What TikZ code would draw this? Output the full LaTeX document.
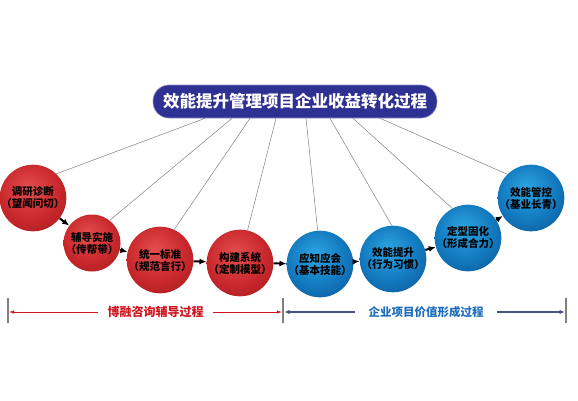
\documentclass[tikz,border=0pt]{standalone}
\usepackage{fontspec}
\setmainfont{Noto Sans CJK SC}
\usetikzlibrary{arrows.meta, calc}

% Colours
\definecolor{titleblue}{RGB}{46,49,146}
\definecolor{redhi}{RGB}{228,78,78}
\definecolor{redmid}{RGB}{200,40,44}
\definecolor{reddark}{RGB}{140,18,22}
\definecolor{bluehi}{RGB}{45,165,225}
\definecolor{bluemid}{RGB}{18,120,190}
\definecolor{bluedark}{RGB}{8,68,125}
\definecolor{consultred}{RGB}{205,22,32}
\definecolor{valueblue}{RGB}{30,110,190}
\definecolor{valuenavy}{RGB}{70,82,130}

% Sphere shadings
\pgfdeclareradialshading{redsphere}{\pgfpoint{-4bp}{8bp}}{%
  color(0bp)=(redhi); color(22bp)=(redmid); color(46bp)=(reddark); color(60bp)=(reddark)}
\pgfdeclareradialshading{bluesphere}{\pgfpoint{-4bp}{8bp}}{%
  color(0bp)=(bluehi); color(22bp)=(bluemid); color(46bp)=(bluedark); color(60bp)=(bluedark)}

\begin{document}
\begin{tikzpicture}[
    x=1pt, y=-1pt,
    >=Latex, % Default arrow tip
    ball/.style={circle, minimum size=57pt, inner sep=0pt, align=center,
                 font=\bfseries\fontsize{10.5}{12}\selectfont},
    redball/.style={ball, shading=redsphere},
    blueball/.style={ball, shading=bluesphere},
    thread/.style={gray, line width=0.5pt},
    flow/.style={-{Latex[length=7pt,width=6pt]}, line width=2pt, black},
    bar/.style={gray, line width=1.4pt},
    redarrow/.style={consultred, line width=0.8pt, -{Latex[length=5pt,width=3.5pt]}, shorten >=1pt},
    bluearrow/.style={valuenavy, line width=1.8pt, -{Latex[length=5pt,width=4.5pt]}, shorten >=1.5pt}
]
\useasboundingbox (0,0) rectangle (578,400);

% Title
\node[fill=titleblue, draw=titleblue!55!white, line width=0.6pt, rounded corners=16pt,
      minimum width=284pt, minimum height=33pt, text=white,
      font=\bfseries\fontsize{16.5}{18}\selectfont] (title) at (295,101.5)
      {效能提升管理项目企业收益转化过程};

% Spheres
\node[redball]  (c1) at (33,198)  {调研诊断\\（望闻问切）};
\node[redball]  (c2) at (92,243)  {辅导实施\\（传帮带）};
\node[redball]  (c3) at (160,260) {统一标准\\（规范言行）};
\node[redball]  (c4) at (240,263) {构建系统\\（定制模型）};
\node[blueball] (c5) at (320,264) {应知应会\\（基本技能）};
\node[blueball] (c6) at (393,259) {效能提升\\（行为习惯）};
\node[blueball] (c7) at (468,238) {定型固化\\（形成合力）};
\node[blueball] (c8) at (531,198) {效能管控\\（基业长青）};

% Threads from title to spheres
\foreach \tx/\c/\a in {205/c1/46, 232/c2/52, 250/c3/65, 276/c4/77,
                       306/c5/94, 330/c6/92, 353/c7/118, 380/c8/135} {
  \coordinate (t\c) at (\tx,0 |- title.south);
  \draw[thread] (t\c) -- (\c.\a);
}

% Flow arrows
\foreach \a/\b in {c1/c2, c2/c3, c3/c4, c4/c5, c5/c6, c6/c7, c7/c8}
  \draw[flow] (\a) -- (\b);

% Phase bars
\coordinate (b1) at (8,312);
\coordinate (b2) at (283,312);
\coordinate (b3) at (566,312);
\foreach \b in {b1, b2, b3}
  \draw[bar] ($(\b)+(0,-14)$) -- ($(\b)+(0,11)$);

% Phase labels
\node[text=consultred, inner xsep=9pt, font=\bfseries\fontsize{12}{14}\selectfont]
  (consult) at (155.5,312) {博融咨询辅导过程};
\node[text=valueblue, inner xsep=13pt, font=\bfseries\fontsize{11.5}{14}\selectfont]
  (value) at (426,312) {企业项目价值形成过程};

\draw[redarrow] (consult.west) -- (b1);
\draw[redarrow] (consult.east) -- (b2);
\draw[bluearrow] (value.west) -- (b2);
\draw[bluearrow] (value.east) -- (b3);

\end{tikzpicture}
\end{document}
